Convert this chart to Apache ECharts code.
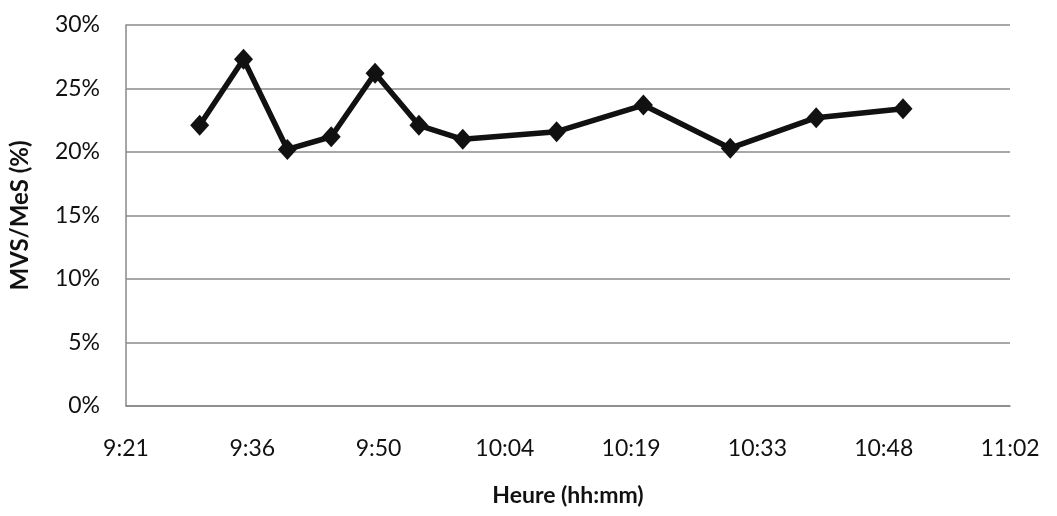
<!DOCTYPE html>
<html>
<head>
<meta charset="utf-8">
<script src="https://cdn.jsdelivr.net/npm/echarts@6/dist/echarts.min.js"></script>
<style>
  html, body { margin: 0; padding: 0; background: #fff; }
  #chart { width: 1057px; height: 516px; }
</style>
</head>
<body>
<div id="chart"></div>
<script>
// Sampling times, in minutes after midnight
const sampleMinutes = [570, 575, 580, 585, 590, 595, 600, 610.7, 620.6, 630.5, 640.3, 650.2];
// MVS/MeS ratio (%) at each sampling time
const ratioPct = [22.1, 27.3, 20.2, 21.2, 26.2, 22.1, 21.0, 21.6, 23.7, 20.3, 22.7, 23.4];
// Time axis labels; one major unit = 0.01 day = 14.4 min, starting at 0.39 day
const timeTicks = ['9:21', '9:36', '9:50', '10:04', '10:19', '10:33', '10:48', '11:02'];
const yTicks = [0, 5, 10, 15, 20, 25, 30];

const MINUTES_PER_UNIT = 14.4;   // 0.01 day
const FIRST_UNIT = 39;           // 0.39 day = 9:21

const points = sampleMinutes.map((m, i) => [m / MINUTES_PER_UNIT, ratioPct[i]]);

const font = 'Lato, "Open Sans", sans-serif';
const chart = echarts.init(document.getElementById('chart'), null, { renderer: 'canvas' });
chart.setOption({
  animation: false,
  backgroundColor: '#ffffff',
  grid: { left: 126, right: 47, top: 25, bottom: 110, containLabel: false },
  xAxis: {
    type: 'value',
    min: FIRST_UNIT,
    max: FIRST_UNIT + timeTicks.length - 1,
    interval: 1,
    name: 'Heure (hh:mm)',
    nameLocation: 'middle',
    nameGap: 78,
    nameTextStyle: { fontFamily: font, fontSize: 23, fontWeight: 'bold', color: '#111' },
    axisLine: { show: true, lineStyle: { color: '#888', width: 1.5 } },
    axisTick: { show: false },
    splitLine: { show: false },
    axisLabel: {
      margin: 31,
      fontFamily: font, fontSize: 23, color: '#111',
      formatter: v => timeTicks[Math.round(v - FIRST_UNIT)]
    }
  },
  yAxis: {
    type: 'value',
    min: yTicks[0],
    max: yTicks[yTicks.length - 1],
    interval: 5,
    name: 'MVS/MeS (%)',
    nameLocation: 'middle',
    nameGap: 94,
    nameRotate: 90,
    nameTextStyle: { fontFamily: font, fontSize: 24, fontWeight: 'bold', color: '#111' },
    axisLine: { show: true, lineStyle: { color: '#888', width: 1.5 } },
    axisTick: { show: false },
    splitLine: { show: true, lineStyle: { color: '#8a8a8a', width: 1.5 } },
    axisLabel: {
      margin: 26,
      fontFamily: font, fontSize: 23, color: '#111',
      formatter: v => v + '%'
    }
  },
  series: [{
    type: 'line',
    data: points,
    symbol: 'diamond',
    symbolSize: [19, 21],
    itemStyle: { color: '#111' },
    lineStyle: { color: '#111', width: 5.5 },
    z: 3
  }]
});
</script>
</body>
</html>
